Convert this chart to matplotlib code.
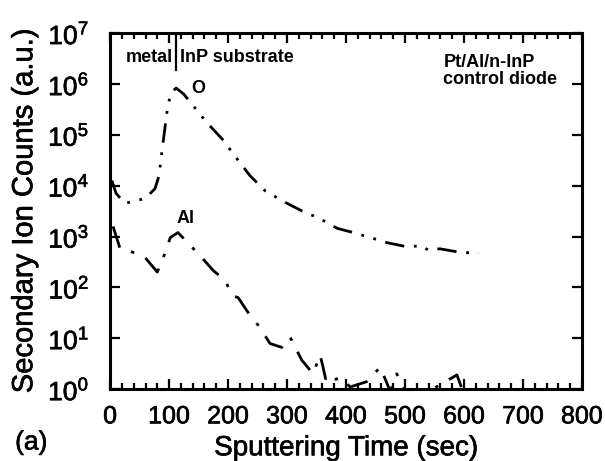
import numpy as np
import matplotlib
matplotlib.use("Agg")
import matplotlib.pyplot as plt
import matplotlib.patheffects as pe
from matplotlib.ticker import MultipleLocator, LogLocator, NullLocator

plt.rcParams['font.family'] = ['Liberation Sans', 'DejaVu Sans']
plt.rcParams['mathtext.default'] = 'regular'

# O signal (sputtering time in sec, counts)
o_time = [3, 10, 25, 42, 59, 76, 83, 88, 93, 98, 105, 112, 125, 141, 164, 190, 215,
          237, 263, 297, 325, 356, 385, 412, 441, 469, 503, 529, 539, 559, 593, 625]
o_counts = [12600, 7100, 4500, 5000, 5600, 8700, 15800, 49000, 138000, 398000, 708000,
            832000, 631000, 372000, 174000, 83000, 34000, 15800, 7900, 4700, 3200, 2240,
            1450, 1200, 955, 760, 630, 660, 540, 575, 490, 470]

# Al signal
al_time = [5, 17, 30, 59, 80, 93, 102, 115, 152, 175, 195, 207, 217, 234, 251, 271, 291,
           305, 325, 344, 356, 361, 367, 390, 407, 435, 458, 475, 486, 500, 540, 588, 598]
al_counts = [1580, 575, 540, 390, 200, 470, 955, 1200, 427, 214, 138, 69, 63, 32, 18, 7.9,
             6.6, 10.5, 3.7, 2.0, 4.7, 2.7, 1.3, 1.7, 1.1, 1.4, 2.7, 0.9, 2.0, 0.95, 0.9,
             1.9, 0.9]

interface_time = 112

fig = plt.figure(figsize=(6.05, 4.61), dpi=100)
ax = fig.add_axes([0.182, 0.156, 0.780, 0.772])

ax.plot(o_time, o_counts, color='black', lw=2, dashes=[7, 3.5, 1, 3.5, 1, 3.5])
ax.plot(al_time, al_counts, color='black', lw=2, dashes=[8, 4.5, 1.2, 4.5])

ax.set_yscale('log')
ax.set_xlim(0, 800)
ax.set_ylim(1, 1e7)
ax.xaxis.set_major_locator(MultipleLocator(100))
ax.xaxis.set_minor_locator(MultipleLocator(20))
ax.yaxis.set_major_locator(LogLocator(base=10, numticks=10))
ax.yaxis.set_minor_locator(NullLocator())

for s in ax.spines.values():
    s.set_linewidth(2.2)
ax.tick_params(which='both', direction='in', top=True, right=True, width=1.6)
ax.tick_params(axis='x', which='major', length=7, labelsize=18, pad=11)
ax.tick_params(axis='x', which='minor', length=4)
ax.tick_params(axis='y', which='major', length=7, labelsize=19, pad=15)

ax.axvline(interface_time, ymin=0.896, ymax=1, color='black', lw=1.6)
ax.text(interface_time - 6, 3.4e6, 'metal', ha='right', va='center', fontsize=13, fontweight='bold')
ax.text(interface_time + 6, 3.4e6, 'InP substrate', ha='left', va='center', fontsize=13, fontweight='bold')
ax.text(565, 1.8e6, 'Pt/Al/n-InP\ncontrol diode', ha='left', va='center', fontsize=13,
        fontweight='bold', linespacing=1.0)
ax.text(138, 8e5, 'O', ha='left', va='center', fontsize=13, fontweight='bold')
ax.text(112, 2.3e3, 'Al', ha='left', va='center', fontsize=13, fontweight='bold')

xl = ax.set_xlabel('Sputtering Time (sec)', fontsize=20, labelpad=5)
yl = ax.set_ylabel('Secondary Ion Counts (a.u.)', fontsize=21, labelpad=7)
ta = fig.text(0.025, 0.025, '(a)', fontsize=19)

thick = [pe.withStroke(linewidth=0.45, foreground='black')]
fig.canvas.draw()
for t in ax.get_xticklabels() + ax.get_yticklabels() + [xl, yl, ta]:
    t.set_path_effects(thick)

fig.savefig('out.png', dpi=100)
